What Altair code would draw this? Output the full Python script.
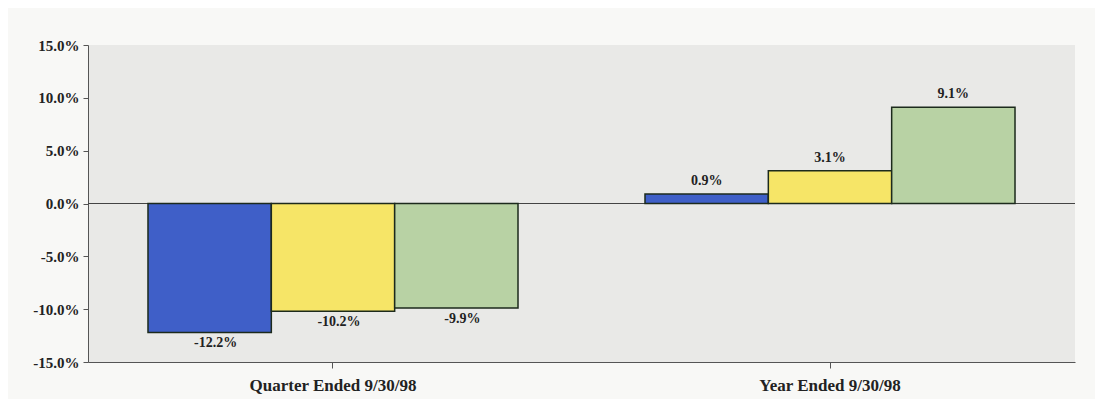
import altair as alt
import pandas as pd

periods = ["Quarter Ended 9/30/98", "Year  Ended  9/30/98"]
series = ["A", "B", "C"]
values_quarter = [-12.2, -10.2, -9.9]
values_year = [0.9, 3.1, 9.1]
colors = ["#3f5fc8", "#f6e567", "#b8d2a4"]
y_ticks = [-15, -10, -5, 0, 5, 10, 15]

rows = []
for p, vals in zip(periods, [values_quarter, values_year]):
    for s, v in zip(series, vals):
        rows.append({"period": p, "series": s, "value": v,
                     "label": f"{v:.1f}%"})
df = pd.DataFrame(rows)

font = "Liberation Serif"

x = alt.X("period:N", sort=periods, title=None,
          scale=alt.Scale(paddingInner=0.2555, paddingOuter=0.1207),
          axis=alt.Axis(labelAngle=0, labelFont=font, labelFontSize=17,
                        labelFontWeight="bold", labelColor="#222",
                        labelPadding=9, ticks=True, tickColor="#555",
                        domainColor="#555", tickSize=6))
xo = alt.XOffset("series:N", sort=series, scale=alt.Scale(paddingInner=0))
y = alt.Y("value:Q", title=None,
          scale=alt.Scale(domain=[-15, 15], nice=False),
          axis=alt.Axis(values=y_ticks,
                        labelExpr="replace(format(datum.value, '.1f'), '\u2212', '-') + '%'",
                        labelFont=font, labelFontSize=15, labelFontWeight="bold",
                        labelColor="#222", gridColor="#555", gridWidth=1,
                        domainColor="#555", tickColor="#555", labelPadding=4))

base = alt.Chart(df)

bars = base.mark_bar(stroke="#1c2a1c", strokeWidth=1.5).encode(
    x=x, xOffset=xo, y=y, y2=alt.datum(0),
    color=alt.Color("series:N", sort=series,
                    scale=alt.Scale(domain=series, range=colors), legend=None),
)

labels_neg = base.transform_filter("datum.value < 0").mark_text(
    font=font, fontSize=14, fontWeight="bold", color="#222", baseline="top", dy=4, dx=6
).encode(x=alt.X("period:N", sort=periods), xOffset=xo, y="value:Q", text="label:N")

labels_pos = base.transform_filter("datum.value >= 0").mark_text(
    font=font, fontSize=14, fontWeight="bold", color="#222", baseline="bottom", dy=-6
).encode(x=alt.X("period:N", sort=periods), xOffset=xo, y="value:Q", text="label:N")

zero = base.mark_rule(color="#444", strokeWidth=1.2).encode(y=alt.datum(0))

chart = alt.layer(zero, bars, labels_neg, labels_pos).properties(
    width=987, height=317,
    padding={"left": 80, "top": 37, "right": 20, "bottom": 40},
    autosize=alt.AutoSizeParams(type="none"),
    background="#f8f8f6",
).configure_view(fill="#e9e9e7", stroke=None)

chart.save("out.html", embed_options={"renderer": "svg", "actions": False})
